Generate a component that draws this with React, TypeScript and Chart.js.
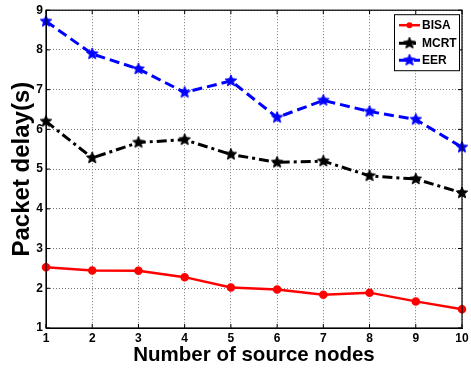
import { useEffect, useRef } from 'react';
import { Chart, registerables } from 'chart.js';
Chart.register(...registerables);

const categories = [1, 2, 3, 4, 5, 6, 7, 8, 9, 10];
const bisaValues = [2.53, 2.45, 2.44, 2.28, 2.02, 1.97, 1.84, 1.89, 1.67, 1.47];
const mcrtValues = [6.2, 5.28, 5.67, 5.74, 5.37, 5.17, 5.2, 4.83, 4.75, 4.4];
const eerValues = [8.72, 7.9, 7.52, 6.93, 7.22, 6.3, 6.73, 6.45, 6.25, 5.55];
const seriesNames = ['BISA', 'MCRT', 'EER'];
const xTitle = 'Number of source nodes';
const yTitle = 'Packet delay(s)';

const FONT = 'Liberation Sans, Arial, Helvetica, sans-serif';

function makeStar(color: string, r: number): HTMLCanvasElement {
  const c = document.createElement('canvas');
  const size = Math.ceil(2 * r + 2);
  c.width = size;
  c.height = size;
  const ctx = c.getContext('2d')!;
  const cx = size / 2;
  const cy = size / 2;
  const inner = r * 0.45;
  ctx.beginPath();
  for (let i = 0; i < 10; i++) {
    const rad = i % 2 === 0 ? r : inner;
    const a = -Math.PI / 2 + (i * Math.PI) / 5;
    const px = cx + rad * Math.cos(a);
    const py = cy + rad * Math.sin(a);
    if (i === 0) ctx.moveTo(px, py);
    else ctx.lineTo(px, py);
  }
  ctx.closePath();
  ctx.fillStyle = color;
  ctx.fill();
  ctx.strokeStyle = color;
  ctx.lineWidth = 1;
  ctx.stroke();
  return c;
}

const boxPlugin = {
  id: 'boxPlugin',
  afterDraw(chart: any) {
    const { ctx, chartArea } = chart;
    ctx.save();
    ctx.strokeStyle = '#000';
    ctx.lineWidth = 1.2;
    ctx.strokeRect(chartArea.left, chartArea.top, chartArea.right - chartArea.left, chartArea.bottom - chartArea.top);

    // small inner tick marks like the original
    const xs = chart.scales.x;
    const ys = chart.scales.y;
    ctx.lineWidth = 1;
    xs.ticks.forEach((t: any) => {
      const px = xs.getPixelForValue(t.value);
      ctx.beginPath();
      ctx.moveTo(px, chartArea.bottom);
      ctx.lineTo(px, chartArea.bottom - 4);
      ctx.moveTo(px, chartArea.top);
      ctx.lineTo(px, chartArea.top + 4);
      ctx.stroke();
    });
    ys.ticks.forEach((t: any) => {
      const py = ys.getPixelForValue(t.value);
      ctx.beginPath();
      ctx.moveTo(chartArea.left, py);
      ctx.lineTo(chartArea.left + 4, py);
      ctx.moveTo(chartArea.right, py);
      ctx.lineTo(chartArea.right - 4, py);
      ctx.stroke();
    });

    // legend
    const w = 65;
    const h = 56;
    const x0 = chartArea.right - 3 - w;
    const y0 = chartArea.top + 4;
    ctx.fillStyle = '#fff';
    ctx.fillRect(x0, y0, w, h);
    ctx.strokeStyle = '#000';
    ctx.lineWidth = 1;
    ctx.strokeRect(x0 + 0.5, y0 + 0.5, w, h);
    const rows = [11, 29, 46];
    chart.data.datasets.forEach((ds: any, i: number) => {
      const y = y0 + rows[i];
      ctx.save();
      ctx.strokeStyle = ds.borderColor;
      ctx.lineWidth = ds.borderWidth;
      ctx.setLineDash(ds.borderDash || []);
      ctx.beginPath();
      ctx.moveTo(x0 + 5, y);
      ctx.lineTo(x0 + 26, y);
      ctx.stroke();
      ctx.restore();
      const mx = x0 + 15.5;
      if (ds.pointStyle instanceof HTMLCanvasElement) {
        ctx.drawImage(ds.pointStyle, mx - ds.pointStyle.width / 2, y - ds.pointStyle.height / 2);
      } else {
        ctx.beginPath();
        ctx.arc(mx, y, ds.pointRadius, 0, Math.PI * 2);
        ctx.fillStyle = ds.pointBackgroundColor;
        ctx.fill();
      }
      ctx.fillStyle = '#000';
      ctx.font = `bold 12px ${FONT}`;
      ctx.textAlign = 'left';
      ctx.textBaseline = 'middle';
      ctx.fillText(ds.label, x0 + 28, y + 0.5);
    });
    ctx.restore();
  },
};

export default function App() {
  const ref = useRef<HTMLCanvasElement>(null);
  useEffect(() => {
    if (!ref.current) return;
    const blueStar = makeStar('#0000ff', 6);
    const blackStar = makeStar('#000000', 6);
    const toPts = (vals: number[]) => categories.map((x, i) => ({ x, y: vals[i] }));
    const chart = new Chart(ref.current, {
      type: 'line',
      data: {
        datasets: [
          {
            label: seriesNames[0],
            data: toPts(bisaValues),
            borderColor: '#ff0000',
            backgroundColor: '#ff0000',
            pointBackgroundColor: '#ff0000',
            pointBorderColor: '#ff0000',
            pointStyle: 'circle',
            pointRadius: 3,
            borderWidth: 2.5,
            clip: false,
          },
          {
            label: seriesNames[1],
            data: toPts(mcrtValues),
            borderColor: '#000000',
            backgroundColor: '#000000',
            pointStyle: blackStar,
            pointRadius: 6,
            borderWidth: 3,
            borderDash: [10, 4, 3, 4],
            clip: false,
          },
          {
            label: seriesNames[2],
            data: toPts(eerValues),
            borderColor: '#0000ff',
            backgroundColor: '#0000ff',
            pointStyle: blueStar,
            pointRadius: 6,
            borderWidth: 3,
            borderDash: [10, 5],
            clip: false,
          },
        ] as any,
      },
      options: {
        animation: false,
        responsive: false,
        layout: { padding: { top: 8, right: 6, left: 0, bottom: 0 } },
        plugins: { legend: { display: false }, tooltip: { enabled: false } },
        elements: { line: { tension: 0 } },
        scales: {
          x: {
            type: 'linear',
            min: 1,
            max: 10,
            afterFit: (s: any) => {
              s.height = 42;
              s.paddingRight = 0;
              s.paddingLeft = 0;
            },
            ticks: {
              stepSize: 1,
              color: '#000',
              padding: 3,
              font: { family: FONT, size: 12, weight: 'bold' },
            },
            grid: { color: '#777', drawTicks: false, lineWidth: 1 },
            border: { display: true, color: '#000', dash: [1, 2] },
            title: {
              display: true,
              text: xTitle,
              color: '#000',
              font: { family: FONT, size: 20.5, weight: 'bold' },
              padding: { top: 0, bottom: 2 },
            },
          },
          y: {
            min: 1,
            max: 9,
            afterFit: (s: any) => {
              s.width = 46;
            },
            ticks: {
              stepSize: 1,
              color: '#000',
              padding: 3,
              font: { family: FONT, size: 12, weight: 'bold' },
            },
            grid: { color: '#777', drawTicks: false, lineWidth: 1 },
            border: { display: true, color: '#000', dash: [1, 2] },
            title: {
              display: true,
              text: yTitle,
              color: '#000',
              font: { family: FONT, size: 24, weight: 'bold' },
              padding: { top: 8, bottom: 0 },
            },
          },
        },
      },
      plugins: [boxPlugin],
    } as any);
    return () => chart.destroy();
  }, []);
  return (
    <div style={{ position: 'fixed', left: 0, top: 0, width: 471, height: 370, background: '#fff' }}>
      <canvas ref={ref} width={471} height={370} style={{ display: 'block' }} />
    </div>
  );
}
